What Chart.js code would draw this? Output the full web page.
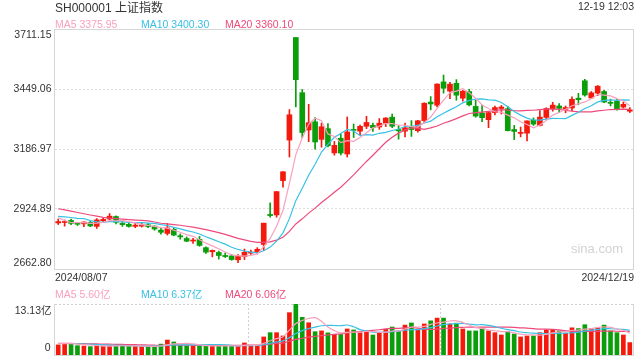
<!DOCTYPE html>
<html>
<head>
<meta charset="utf-8">
<script src="https://cdn.jsdelivr.net/npm/chart.js@4.4.1/dist/chart.umd.min.js"></script>
<style>
html, body { margin: 0; padding: 0; background: #fff; }
#wrap { position: relative; width: 640px; height: 360px; overflow: hidden;
  font-family: "Liberation Sans", Arial, "Noto Sans CJK SC", sans-serif; }
#wrap canvas { position: absolute; left: 0; top: 0; }
.t { position: absolute; white-space: nowrap; font-size: 10.5px; line-height: 12px; color: #333; }
</style>
</head>
<body>
<div id="wrap">
  <canvas id="price" width="640" height="360"></canvas>
  <canvas id="volume" width="640" height="360"></canvas>
  <div class="t" style="left:55px;top:1px;font-size:12px;line-height:14px;">SH000001 上证指数</div>
  <div class="t" style="right:6px;top:0px;">12-19 12:03</div>
  <div class="t" style="left:55px;top:18px;color:#f8a1be;">MA5 3375.95</div>
  <div class="t" style="left:141px;top:18px;color:#38c1e5;">MA10 3400.30</div>
  <div class="t" style="left:225px;top:18px;color:#ee4a7b;">MA20 3360.10</div>
  <div class="t" style="left:55px;top:271px;">2024/08/07</div>
  <div class="t" style="right:6px;top:271px;">2024/12/19</div>
  <div class="t" style="left:55px;top:288px;color:#f8a1be;">MA5 5.60亿</div>
  <div class="t" style="left:141px;top:288px;color:#38c1e5;">MA10 6.37亿</div>
  <div class="t" style="left:225px;top:288px;color:#ee4a7b;">MA20 6.06亿</div>
  <div class="t" style="right:17px;top:242px;font-size:13px;line-height:14px;color:#d2d2d2;">sina.com</div>
</div>
<script>
// 交易日
const categories = [
  '2024/08/07','2024/08/08','2024/08/09','2024/08/12','2024/08/13','2024/08/14','2024/08/15','2024/08/16','2024/08/19','2024/08/20',
  '2024/08/21','2024/08/22','2024/08/23','2024/08/26','2024/08/27','2024/08/28','2024/08/29','2024/08/30','2024/09/02','2024/09/03',
  '2024/09/04','2024/09/05','2024/09/06','2024/09/09','2024/09/10','2024/09/11','2024/09/12','2024/09/13','2024/09/18','2024/09/19',
  '2024/09/20','2024/09/23','2024/09/24','2024/09/25','2024/09/26','2024/09/27','2024/09/30','2024/10/08','2024/10/09','2024/10/10',
  '2024/10/11','2024/10/14','2024/10/15','2024/10/16','2024/10/17','2024/10/18','2024/10/21','2024/10/22','2024/10/23','2024/10/24',
  '2024/10/25','2024/10/28','2024/10/29','2024/10/30','2024/10/31','2024/11/01','2024/11/04','2024/11/05','2024/11/06','2024/11/07',
  '2024/11/08','2024/11/11','2024/11/12','2024/11/13','2024/11/14','2024/11/15','2024/11/18','2024/11/19','2024/11/20','2024/11/21',
  '2024/11/22','2024/11/25','2024/11/26','2024/11/27','2024/11/28','2024/11/29','2024/12/02','2024/12/03','2024/12/04','2024/12/05',
  '2024/12/06','2024/12/09','2024/12/10','2024/12/11','2024/12/12','2024/12/13','2024/12/16','2024/12/17','2024/12/18','2024/12/19'
];

// K线 开 高 低 收
const opens = [
  2864,2866,2875,2862,2860,2866,2849,2874,2881,2892, 2862,2858,2849,2850,2856,2850,2833,2818,2836,2808,
  2796,2785,2792,2756,2738,2735,2722,2720,2703,2717, 2732,2737,2770,2901,2899,3049,3226,3674,3433,3270,
  3306,3229,3276,3170,3234,3165,3272,3265,3286,3290, 3283,3300,3326,3272,3265,3282,3267,3311,3392,3378,
  3480,3440,3474,3409,3438,3373,3344,3315,3346,3364, 3363,3272,3255,3256,3313,3290,3325,3363,3375,3360,
  3366,3409,3485,3410,3431,3438,3391,3395,3370,3352
];
const highs = [
  2881,2877,2881,2866,2869,2871,2883,2887,2905,2895, 2870,2866,2866,2862,2862,2852,2840,2862,2845,2816,
  2803,2797,2805,2760,2746,2741,2733,2726,2726,2750, 2745,2756,2863,2952,3001,3088,3359,3674,3447,3382,
  3324,3300,3298,3220,3253,3327,3296,3292,3330,3300, 3320,3324,3340,3290,3300,3311,3312,3389,3416,3472,
  3510,3478,3490,3443,3448,3400,3379,3347,3375,3377, 3374,3290,3283,3310,3323,3355,3367,3391,3385,3375,
  3415,3430,3491,3438,3464,3443,3405,3404,3392,3368
];
const lows = [
  2857,2850,2856,2853,2848,2848,2840,2866,2875,2860, 2849,2845,2843,2846,2843,2832,2815,2811,2808,2793,
  2782,2774,2762,2731,2716,2706,2713,2701,2690,2704, 2727,2729,2744,2889,2889,3020,3152,3371,3237,3219,
  3186,3195,3196,3160,3161,3152,3237,3250,3276,3264, 3273,3285,3280,3230,3240,3242,3260,3301,3358,3371,
  3431,3407,3400,3396,3375,3326,3306,3280,3336,3340, 3266,3228,3240,3222,3290,3288,3318,3352,3346,3345,
  3354,3380,3418,3407,3420,3389,3375,3357,3366,3346
];
const closes = [
  2869.9,2869.8,2862.2,2858.2,2868.0,2850.7,2877.4,2879.4,2893.7,2866.7, 2856.6,2848.8,2854.4,2855.5,2848.3,2837.4,2823.1,2842.2,2811.0,2803.0,
  2784.3,2788.3,2765.8,2736.5,2744.2,2721.8,2717.1,2704.1,2717.3,2736.0, 2736.8,2748.9,2863.1,2896.3,3000.9,3087.5,3336.5,3489.8,3258.9,3301.9,
  3217.7,3284.3,3201.3,3202.9,3169.4,3261.6,3268.1,3285.9,3302.8,3280.3, 3299.7,3322.2,3286.4,3266.2,3279.8,3272.0,3310.2,3387.0,3383.8,3470.7,
  3452.3,3470.1,3422.0,3439.3,3379.8,3330.7,3323.9,3346.0,3368.0,3370.4, 3267.2,3263.8,3259.8,3309.8,3295.7,3326.5,3364.0,3378.8,3364.7,3368.1,
  3404.1,3402.5,3422.7,3432.5,3461.5,3391.9,3386.3,3361.5,3382.2,3358.0
];

// 均线
const ma5 = [
  2887.0,2874.6,2866.0,2865.4,2865.6,2861.8,2863.2,2866.6,2873.8,2873.6, 2874.8,2869.2,2864.2,2856.6,2852.8,2848.8,2843.6,2841.2,2832.2,2823.2,
  2812.6,2805.6,2790.4,2775.6,2763.8,2751.4,2737.2,2724.8,2720.8,2719.2, 2722.2,2728.6,2760.4,2796.2,2849.2,2919.4,3037.0,3162.4,3235.0,3295.2,
  3321.2,3310.6,3252.8,3241.6,3215.0,3223.8,3220.6,3237.6,3257.6,3279.8, 3287.4,3298.2,3298.2,3290.8,3290.8,3285.2,3282.8,3303.0,3326.6,3364.8,
  3400.8,3432.8,3439.8,3450.8,3432.6,3408.4,3379.2,3364.0,3349.8,3347.8, 3335.0,3323.0,3305.8,3294.2,3279.4,3291.4,3311.4,3335.2,3346.2,3360.6,
  3376.0,3383.8,3392.6,3406.2,3425.0,3422.6,3419.2,3407.0,3396.8,3376.0
];
const ma10 = [
  2892.3,2890.6,2887.7,2884.3,2883.2,2874.4,2868.9,2866.3,2869.6,2869.6, 2868.3,2866.2,2865.4,2865.2,2863.2,2861.8,2856.4,2852.7,2844.4,2838.0,
  2830.7,2824.6,2815.8,2803.9,2793.5,2782.0,2771.4,2757.6,2748.2,2741.5, 2736.8,2732.9,2742.6,2758.5,2784.2,2820.8,2882.8,2961.4,3015.6,3072.2,
  3120.3,3173.8,3207.6,3238.3,3255.1,3272.5,3265.6,3245.2,3249.6,3247.4, 3255.6,3259.4,3267.9,3274.2,3285.3,3286.3,3290.5,3300.6,3308.7,3327.8,
  3343.0,3357.8,3371.4,3388.7,3398.7,3404.6,3406.0,3401.9,3400.3,3390.2, 3371.7,3351.1,3334.9,3322.0,3313.6,3313.2,3317.2,3320.5,3320.2,3320.0,
  3333.7,3347.6,3363.9,3376.2,3392.8,3399.3,3401.5,3399.8,3401.5,3400.3
];
const ma20 = [
  2925.9,2920.9,2915.4,2909.6,2904.2,2898.6,2893.6,2888.5,2885.0,2882.6, 2880.3,2878.4,2876.6,2874.8,2873.2,2868.1,2862.7,2859.5,2857.0,2853.8,
  2849.5,2845.4,2840.6,2834.6,2828.4,2821.9,2813.9,2805.2,2796.3,2789.8, 2783.8,2778.8,2779.2,2781.2,2788.9,2801.4,2827.1,2859.5,2881.9,2906.9,
  2928.6,2953.4,2975.1,2998.4,3019.7,3046.7,3074.2,3103.3,3132.6,3159.8, 3188.0,3216.6,3237.8,3256.3,3270.2,3279.4,3278.0,3272.9,3279.2,3287.6,
  3299.3,3308.6,3319.7,3331.5,3342.0,3345.5,3348.3,3351.3,3354.5,3359.0, 3357.4,3354.5,3353.2,3355.4,3356.2,3358.9,3361.6,3361.2,3360.3,3355.1,
  3352.7,3349.4,3349.4,3349.1,3353.2,3356.3,3359.4,3360.2,3360.9,3360.1
];

// 成交量（亿）
const volumes = [
  2.6,3.0,3.0,2.4,2.3,2.15,2.4,2.3,2.4,2.4, 2.4,2.3,2.3,2.15,2.15,2.2,2.8,3.85,3.35,2.5,
  2.4,2.4,2.4,2.3,2.3,2.3,2.4,2.4,2.3,3.1, 2.4,2.5,4.65,5.75,5.75,4.9,10.9,13.13,9.7,8.3,
  6.0,6.2,5.7,5.3,5.3,6.7,6.45,5.75,6.2,5.15, 5.75,6.6,7.2,6.2,7.7,8.25,6.6,8.0,8.8,9.5,
  9.5,8.0,8.2,6.7,6.2,6.2,6.9,6.2,5.75,5.15, 6.0,5.4,4.65,4.9,4.9,5.75,6.45,6.45,6.2,5.6,
  7.0,6.8,7.8,6.8,7.0,7.7,6.2,5.75,5.15,3.2
];
const volMa5 = [
  2.92,2.92,2.92,2.8,2.66,2.57,2.45,2.31,2.31,2.33, 2.38,2.36,2.36,2.31,2.26,2.22,2.32,2.63,2.87,2.94,
  2.98,2.9,2.61,2.4,2.36,2.34,2.34,2.34,2.34,2.5, 2.52,2.54,2.99,3.68,4.21,4.71,6.39,8.09,8.88,9.39,
  9.61,8.67,7.18,6.3,5.7,5.84,5.89,5.9,6.08,6.05, 5.86,5.89,6.18,6.18,6.69,7.19,7.19,7.35,7.87,8.23,
  8.48,8.76,8.8,8.38,7.72,7.06,6.84,6.44,6.25,6.04, 6.0,5.7,5.39,5.22,5.17,5.12,5.33,5.69,5.95,6.09,
  6.34,6.41,6.68,6.8,7.08,7.22,7.1,6.69,6.36,5.6
];
const volMa10 = [
  2.96,2.96,2.96,2.9,2.83,2.75,2.69,2.62,2.56,2.5, 2.48,2.41,2.34,2.31,2.3,2.3,2.34,2.5,2.59,2.6,
  2.6,2.61,2.62,2.64,2.65,2.66,2.62,2.48,2.37,2.43, 2.43,2.44,2.67,3.01,3.36,3.62,4.47,5.54,6.28,6.8,
  7.16,7.53,7.63,7.59,7.54,7.72,7.28,6.54,6.19,5.88, 5.85,5.89,6.04,6.13,6.37,6.53,6.54,6.77,7.03,7.46,
  7.84,7.98,8.08,8.13,7.98,7.77,7.8,7.62,7.32,6.88, 6.53,6.27,5.92,5.74,5.61,5.56,5.52,5.54,5.59,5.63,
  5.73,5.87,6.19,6.38,6.59,6.78,6.76,6.69,6.58,6.37
];
const volMa20 = [
  2.98,2.98,2.98,2.95,2.92,2.87,2.84,2.81,2.78,2.75, 2.72,2.68,2.65,2.61,2.56,2.52,2.51,2.56,2.57,2.55,
  2.54,2.51,2.48,2.47,2.47,2.48,2.48,2.49,2.48,2.52, 2.52,2.53,2.64,2.82,3.0,3.14,3.54,4.01,4.32,4.61,
  4.79,4.98,5.15,5.3,5.45,5.67,5.87,6.04,6.23,6.34, 6.5,6.71,6.84,6.86,6.96,7.12,6.91,6.65,6.61,6.67,
  6.84,6.93,7.06,7.13,7.17,7.15,7.17,7.19,7.17,7.17, 7.18,7.12,7.0,6.93,6.79,6.67,6.66,6.58,6.45,6.26,
  6.13,6.07,6.05,6.06,6.1,6.17,6.14,6.11,6.08,6.06
];

// 坐标刻度
const priceTicks = [2662.80, 2924.89, 3186.97, 3449.06, 3711.15];
const volumeTicks = [0, 13.13];

const UP = '#f31a0d';
const DOWN = '#0a9e0a';
const C5 = '#f8a1be';
const C10 = '#38c1e5';
const C20 = '#ee4a7b';
const FONT = '10.5px "Liberation Sans", Arial, "Noto Sans CJK SC", sans-serif';

const candleColors = closes.map((c, i) => c >= opens[i] ? UP : DOWN);

function maLine(data, color, tension) {
    return {
        type: 'line',
        data: data,
        borderColor: color,
        borderWidth: 1.2,
        pointRadius: 0,
        tension: tension,
        order: 0
    };
}

function hLine(ctx, y, x1, x2) {
    ctx.beginPath();
    ctx.moveTo(x1, y);
    ctx.lineTo(x2, y);
    ctx.stroke();
}

function vLine(ctx, x, y1, y2) {
    ctx.beginPath();
    ctx.moveTo(x, y1);
    ctx.lineTo(x, y2);
    ctx.stroke();
}

// 主图边框、虚线网格和价格刻度
const priceFrame = {
    id: 'priceFrame',
    beforeDatasetsDraw(chart) {
        const { ctx, chartArea: a, scales: { y } } = chart;
        ctx.save();
        ctx.lineWidth = 1;
        ctx.strokeStyle = '#dedede';
        ctx.setLineDash([2, 2]);
        priceTicks.slice(1, -1).forEach(v => {
            hLine(ctx, Math.floor(y.getPixelForValue(v)) + 0.5, a.left, a.right);
        });
        ctx.setLineDash([]);
        ctx.strokeStyle = '#d6d6d6';
        hLine(ctx, a.top + 0.5, a.left - 1, a.right + 1);
        hLine(ctx, a.bottom + 0.5, a.left - 1, a.right + 1);
        vLine(ctx, a.left - 0.5, a.top, a.bottom + 1);
        vLine(ctx, a.right + 0.5, a.top, a.bottom + 1);

        ctx.fillStyle = '#333';
        ctx.font = FONT;
        ctx.textAlign = 'right';
        priceTicks.forEach((v, i) => {
            let py = y.getPixelForValue(v);
            if (i === priceTicks.length - 1) { ctx.textBaseline = 'top'; py += 1; }
            else if (i === 0) { ctx.textBaseline = 'bottom'; py -= 1; }
            else ctx.textBaseline = 'middle';
            ctx.fillText(v.toFixed(2), a.left - 3.5, py);
        });
        ctx.restore();
    }
};

// 副图边框和成交量刻度
const volumeFrame = {
    id: 'volumeFrame',
    beforeDatasetsDraw(chart) {
        const { ctx, chartArea: a, scales: { y } } = chart;
        ctx.save();
        ctx.lineWidth = 1;
        ctx.strokeStyle = '#d0d0d0';
        ctx.setLineDash([2, 2]);
        hLine(ctx, a.top + 0.5, a.left, a.right);
        const w = a.right - a.left;
        vLine(ctx, Math.round(a.left + w / 3) + 0.5, a.top, a.bottom);
        vLine(ctx, Math.round(a.left + w * 2 / 3) + 0.5, a.top, a.bottom);
        ctx.setLineDash([]);
        ctx.strokeStyle = '#d6d6d6';
        hLine(ctx, a.bottom + 0.5, a.left - 1, a.right + 1);
        vLine(ctx, a.left - 0.5, a.top, a.bottom + 1);
        vLine(ctx, a.right + 0.5, a.top, a.bottom + 1);

        ctx.fillStyle = '#333';
        ctx.font = FONT;
        ctx.textAlign = 'right';
        ctx.textBaseline = 'top';
        ctx.fillText(volumeTicks[1].toFixed(2) + '亿', a.left - 3.5, y.getPixelForValue(volumeTicks[1]) + 2);
        ctx.textBaseline = 'bottom';
        ctx.fillText(String(volumeTicks[0]), a.left - 4.5, y.getPixelForValue(volumeTicks[0]) - 2);
        ctx.restore();
    }
};

const baseOptions = {
    responsive: false,
    animation: false,
    devicePixelRatio: 1,
    events: [],
    plugins: { legend: { display: false }, tooltip: { enabled: false } }
};

new Chart(document.getElementById('price'), {
    type: 'bar',
    data: {
        labels: categories,
        datasets: [
            {
                data: lows.map((l, i) => [l, highs[i]]),
                backgroundColor: candleColors,
                barThickness: 1,
                grouped: false,
                order: 2
            },
            {
                data: opens.map((o, i) => [o, closes[i]]),
                backgroundColor: candleColors,
                barThickness: 5,
                minBarLength: 1,
                grouped: false,
                order: 1
            },
            maLine(ma5, C5, 0),
            maLine(ma10, C10, 0),
            maLine(ma20, C20, 0)
        ]
    },
    options: {
        ...baseOptions,
        layout: { padding: { left: 55, right: 7, top: 29, bottom: 91 } },
        scales: {
            x: { type: 'category', offset: true, display: false },
            y: { min: priceTicks[0], max: priceTicks[priceTicks.length - 1], display: false }
        }
    },
    plugins: [priceFrame]
});

new Chart(document.getElementById('volume'), {
    type: 'bar',
    data: {
        labels: categories,
        datasets: [
            {
                data: volumes,
                backgroundColor: candleColors,
                barThickness: 4,
                order: 1
            },
            maLine(volMa5, C5, 0.4),
            maLine(volMa10, C10, 0.4),
            maLine(volMa20, C20, 0.4)
        ]
    },
    options: {
        ...baseOptions,
        layout: { padding: { left: 55, right: 7, top: 304, bottom: 5 } },
        scales: {
            x: { type: 'category', offset: true, display: false },
            y: { min: volumeTicks[0], max: volumeTicks[1], display: false }
        }
    },
    plugins: [volumeFrame]
});
</script>
</body>
</html>
